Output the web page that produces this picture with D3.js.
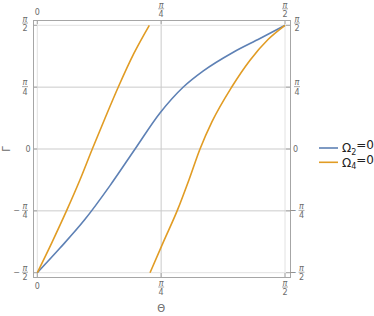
<!DOCTYPE html>
<html>
<head>
<meta charset="utf-8">
<script src="https://cdn.jsdelivr.net/npm/d3@7"></script>
<style>
  body { margin: 0; background: #fff; }
  svg { display: block; font-family: "DejaVu Sans", sans-serif; }
</style>
</head>
<body>
<svg id="chart" width="374" height="316"></svg>
<script>
const PI = Math.PI

// readings, in radians: [Θ, Γ]
const omega2 = [
  [0, -1.571], [0.144, -1.258], [0.3025, -0.893], [0.461, -0.465], [0.620, 0],
  [0.778, 0.457], [0.926, 0.787], [1.053, 0.992], [1.243, 1.229], [1.412, 1.403], [1.571, 1.571]
]
const omega4a = [
  [0, -1.571], [0.0932, -1.185], [0.1865, -0.780], [0.2708, -0.391], [0.3488, 0],
  [0.4294, 0.390], [0.5137, 0.787], [0.6133, 1.217], [0.7103, 1.571]
]
const omega4b = [
  [0.7148, -1.571], [0.8004, -1.177], [0.8879, -0.780], [0.9621, -0.390], [1.0318, 0],
  [1.108, 0.347], [1.2329, 0.787], [1.349, 1.128], [1.463, 1.391], [1.571, 1.571]
]

const xTicks = [[0, '0'], [PI / 4, 'π', '4'], [PI / 2, 'π', '2']]
const yTicks = [[-PI / 2, 'π', '2', true], [-PI / 4, 'π', '4', true], [0, '0'], [PI / 4, 'π', '4'], [PI / 2, 'π', '2']]
const legendItems = [['Ω', '2', '=0', '#5e81b5'], ['Ω', '4', '=0', '#e19c24']]

const svg = d3.select('#chart')
const frame = { left: 33, right: 290, top: 20, bottom: 277 }
const labelColor = '#6b6b6b'

const x = d3.scaleLinear().domain([0, PI / 2]).range([37.3, 285])
const y = d3.scaleLinear().domain([-PI / 2, PI / 2]).range([272.7, 25.3])

// grid
const grid = svg.append('g')
xTicks.forEach(t => {
  const edge = t[0] === 0 || t[0] === PI / 2
  grid.append('line')
    .attr('x1', x(t[0])).attr('x2', x(t[0]))
    .attr('y1', frame.top).attr('y2', frame.bottom)
    .attr('stroke', edge ? '#e2e2e2' : '#cbcbcb').attr('stroke-width', 1)
})
yTicks.forEach(t => {
  const edge = Math.abs(t[0]) === PI / 2
  grid.append('line')
    .attr('y1', y(t[0])).attr('y2', y(t[0]))
    .attr('x1', frame.left).attr('x2', frame.right)
    .attr('stroke', edge ? '#e2e2e2' : '#cbcbcb').attr('stroke-width', 1)
})

// curves
const line = d3.line().x(d => x(d[0])).y(d => y(d[1])).curve(d3.curveMonotoneX)
const curves = svg.append('g').attr('fill', 'none').attr('stroke-width', 1.6)
curves.append('path').datum(omega2).attr('d', line).attr('stroke', '#5e81b5')
curves.append('path').datum(omega4a).attr('d', line).attr('stroke', '#e19c24')
curves.append('path').datum(omega4b).attr('d', line).attr('stroke', '#e19c24')

// frame
svg.append('rect')
  .attr('x', frame.left + 0.5).attr('y', frame.top + 0.5)
  .attr('width', frame.right - frame.left).attr('height', frame.bottom - frame.top)
  .attr('fill', 'none').attr('stroke', '#a6a6a6')

// tick marks
const ticks = svg.append('g').attr('stroke', '#a6a6a6')
xTicks.forEach(t => {
  ticks.append('line').attr('x1', x(t[0])).attr('x2', x(t[0])).attr('y1', frame.bottom).attr('y2', frame.bottom - 4)
  ticks.append('line').attr('x1', x(t[0])).attr('x2', x(t[0])).attr('y1', frame.top).attr('y2', frame.top + 4)
})
yTicks.forEach(t => {
  ticks.append('line').attr('y1', y(t[0])).attr('y2', y(t[0])).attr('x1', frame.left).attr('x2', frame.left + 4)
  ticks.append('line').attr('y1', y(t[0])).attr('y2', y(t[0])).attr('x1', frame.right).attr('x2', frame.right - 4)
})

// tick labels
const labels = svg.append('g').attr('font-size', 8)

function label (g, lx, ly, txt, anchor) {
  return g.append('text').attr('x', lx).attr('y', ly).attr('dy', '0.35em')
    .attr('text-anchor', anchor || 'middle').attr('fill', labelColor).text(txt)
}

function fraction (g, cx, cy, num, den, neg) {
  label(g, cx, cy - 4.5, num).attr('font-style', 'italic')
  g.append('line').attr('x1', cx - 3).attr('x2', cx + 3).attr('y1', cy - 0.5).attr('y2', cy - 0.5)
    .attr('stroke', labelColor).attr('stroke-width', 0.6)
  label(g, cx, cy + 4.7, den)
  if (neg) label(g, cx - 5, cy - 0.5, '−', 'end')
}

xTicks.forEach(t => {
  if (t.length === 2) {
    label(labels, x(t[0]), 12, t[1])
    label(labels, x(t[0]), 286, t[1])
  } else {
    fraction(labels, x(t[0]), 9.3, t[1], t[2])
    fraction(labels, x(t[0]), 287.5, t[1], t[2])
  }
})
yTicks.forEach(t => {
  if (t.length === 2) {
    label(labels, 30.5, y(t[0]), t[1], 'end')
    label(labels, 293, y(t[0]), t[1], 'start')
  } else {
    const yy = t[0] === PI / 2 ? y(t[0]) - 1.8 : y(t[0])
    fraction(labels, 25, yy, t[1], t[2], t[3])
    fraction(labels, t[3] ? 301.5 : 297, yy, t[1], t[2], t[3])
  }
})

// axis titles
svg.append('text').attr('x', x(PI / 4)).attr('y', 308).attr('dy', '0.35em')
  .attr('text-anchor', 'middle').attr('font-size', 10).attr('fill', labelColor).text('Θ')
svg.append('text').attr('transform', `translate(6,${y(0)}) rotate(-90)`).attr('dy', '0.35em')
  .attr('text-anchor', 'middle').attr('font-size', 10).attr('fill', labelColor).text('Γ')

// legend
const legend = svg.append('g')
legendItems.forEach((d, i) => {
  const ly = 148 + i * 14.3
  legend.append('line').attr('x1', 319).attr('x2', 338).attr('y1', ly).attr('y2', ly)
    .attr('stroke', d[3]).attr('stroke-width', 1.6)
  const t = legend.append('text').attr('x', 342).attr('y', ly).attr('dy', '0.35em')
    .attr('font-size', 12).attr('fill', '#222')
  t.append('tspan').text(d[0])
  t.append('tspan').attr('font-size', 8).attr('dy', '0.3em').text(d[1])
  t.append('tspan').attr('dy', '-0.45em').text(d[2])
})
</script>
</body>
</html>
